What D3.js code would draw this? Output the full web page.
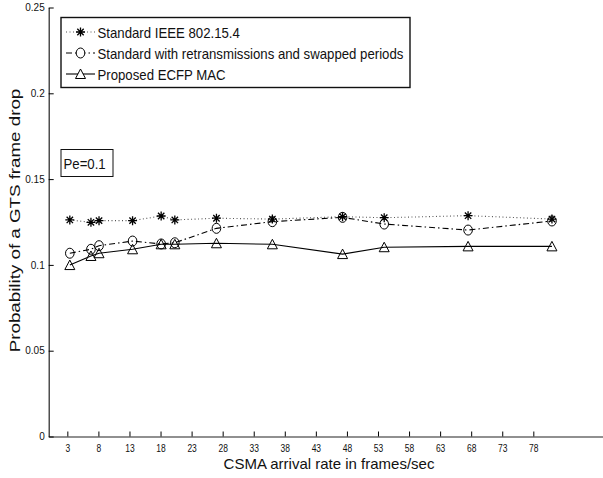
<!DOCTYPE html>
<html>
<head>
<meta charset="utf-8">
<script src="https://cdn.jsdelivr.net/npm/d3@7"></script>
<style>
  body { margin: 0; background: #fff; }
  svg { display: block; font-family: "Liberation Sans", Arial, sans-serif; }
</style>
</head>
<body>
<div id="vis"></div>
<script>
// frame
const FRAME_WIDTH = 603;
const FRAME_HEIGHT = 478;

// data
const arrivalRate = [3.4, 6.8, 8.1, 13.5, 18.1, 20.3, 27, 36, 47.3, 54, 67.5, 81];
const standardDrop = [0.1262, 0.1248, 0.1258, 0.1258, 0.1285, 0.1262, 0.1272, 0.1267, 0.1281, 0.1275, 0.1287, 0.1267];
const retransDrop = [0.1068, 0.1091, 0.1112, 0.1139, 0.1122, 0.1129, 0.1213, 0.1252, 0.1277, 0.1238, 0.1203, 0.1256];
const proposedDrop = [0.0999, 0.1052, 0.1068, 0.1091, 0.1120, 0.1120, 0.1126, 0.1120, 0.1063, 0.1103, 0.1108, 0.1108];
const xTicks = [3, 8, 13, 18, 23, 28, 33, 38, 43, 48, 53, 58, 63, 68, 73, 78];
const yTicks = [0, 0.05, 0.1, 0.15, 0.2, 0.25];
const seriesNames = ["Standard IEEE 802.15.4",
                     "Standard with retransmissions and swapped periods",
                     "Proposed ECFP MAC"];

const FRAME = d3.select("#vis").append("svg")
                .attr("width", FRAME_WIDTH)
                .attr("height", FRAME_HEIGHT);

// scales
const X_SCALE = d3.scaleLinear().domain([0, 90]).range([48.7, 48.7 + 90 * 6.213]);
const Y_SCALE = d3.scaleLinear().domain([0, 0.25]).range([436.5, 7.5]);

// squeeze a text horizontally, like the stretched original figure
function squeeze(sel, k) {
  sel.each(function() {
    const w = this.getComputedTextLength();
    d3.select(this).attr("textLength", w * k).attr("lengthAdjust", "spacingAndGlyphs");
  });
}

// axes (left and bottom only, ticks inward)
const xAxis = FRAME.append("g")
    .attr("transform", "translate(0," + Y_SCALE(0) + ")")
    .call(d3.axisBottom(X_SCALE).tickValues(xTicks).tickSizeInner(-5).tickSizeOuter(0).tickPadding(7));
xAxis.select(".domain").attr("stroke", "#222").attr("stroke-width", 1.2);
xAxis.selectAll("text").attr("font-size", "10px").attr("fill", "#111")
     .attr("transform", "scale(0.85,1.1)");

const yAxis = FRAME.append("g")
    .attr("transform", "translate(" + X_SCALE(0) + ",0)")
    .call(d3.axisLeft(Y_SCALE).tickValues(yTicks).tickFormat(d => d === 0 ? "0" : String(+d.toFixed(2)))
            .tickSizeInner(-5).tickSizeOuter(0).tickPadding(4));
yAxis.select(".domain").attr("stroke", "#222").attr("stroke-width", 1.2);
yAxis.selectAll("text").attr("font-size", "10px").attr("fill", "#111");

// series
const series = [
  {name: seriesNames[0], values: standardDrop, dash: "1,2.5", marker: "star", color: "#555"},
  {name: seriesNames[1], values: retransDrop, dash: "6,3,1.5,3", marker: "circle", color: "#000"},
  {name: seriesNames[2], values: proposedDrop, dash: null, marker: "triangle", color: "#000"}
];

const line = d3.line().x(d => X_SCALE(d[0])).y(d => Y_SCALE(d[1]));

function markerPath(type) {
  if (type === "star") {
    const r = 4.5, a = 3.2;
    return "M0," + (-r) + "L0," + r + "M" + (-r) + ",0L" + r + ",0" +
           "M" + (-a) + "," + (-a) + "L" + a + "," + a + "M" + (-a) + "," + a + "L" + a + "," + (-a);
  }
  if (type === "circle") {
    return "M-4.3,0A4.3,5 0 1,0 4.3,0A4.3,5 0 1,0 -4.3,0Z";
  }
  return "M0,-5L5,4.5L-5,4.5Z";
}

series.forEach(s => {
  const pts = arrivalRate.map((x, i) => [x, s.values[i]]);
  FRAME.append("path")
       .datum(pts)
       .attr("d", line)
       .attr("fill", "none")
       .attr("stroke", s.color)
       .attr("stroke-width", 1.1)
       .attr("stroke-dasharray", s.dash);
  FRAME.selectAll(null)
       .data(pts)
       .enter()
       .append("path")
         .attr("transform", d => "translate(" + X_SCALE(d[0]) + "," + Y_SCALE(d[1]) + ")")
         .attr("d", markerPath(s.marker))
         .attr("fill", "none")
         .attr("stroke", "#000")
         .attr("stroke-width", s.marker === "star" ? 1.3 : 1);
});

// legend
const legend = FRAME.append("g");
legend.append("rect")
      .attr("x", 61).attr("y", 17.5).attr("width", 349).attr("height", 70)
      .attr("fill", "#fff").attr("stroke", "#111").attr("stroke-width", 1.4);
const legendY = [32, 53, 74];
series.forEach((s, i) => {
  const g = legend.append("g").attr("transform", "translate(0," + legendY[i] + ")");
  g.append("line").attr("x1", 66).attr("x2", 95).attr("y1", 0).attr("y2", 0)
   .attr("stroke", s.color).attr("stroke-width", 1.1).attr("stroke-dasharray", s.dash);
  g.append("path").attr("transform", "translate(80.5,0)").attr("d", markerPath(s.marker))
   .attr("fill", "#fff").attr("stroke", "#000").attr("stroke-width", s.marker === "star" ? 1.3 : 1);
  g.append("text").attr("x", 97.5).attr("y", 5.5).attr("font-size", "14.5px").attr("fill", "#111")
   .text(s.name)
   .call(squeeze, 0.91);
});

// annotation
FRAME.append("rect")
     .attr("x", 61).attr("y", 149.5).attr("width", 52).attr("height", 27)
     .attr("fill", "#fff").attr("stroke", "#111").attr("stroke-width", 1);
FRAME.append("text").attr("x", 63.5).attr("y", 168.5).attr("font-size", "14.5px").attr("fill", "#111")
     .text("Pe=0.1")
     .call(squeeze, 0.91);

// axis labels
FRAME.append("text")
     .attr("x", 329).attr("y", 469).attr("text-anchor", "middle")
     .attr("font-size", "15px").attr("fill", "#111")
     .text("CSMA arrival rate in frames/sec");
FRAME.append("text")
     .attr("transform", "translate(19.5,220.5) rotate(-90) scale(1.25,1)")
     .attr("text-anchor", "middle")
     .attr("font-size", "15px").attr("fill", "#111")
     .text("Probability of a GTS frame drop");
</script>
</body>
</html>
